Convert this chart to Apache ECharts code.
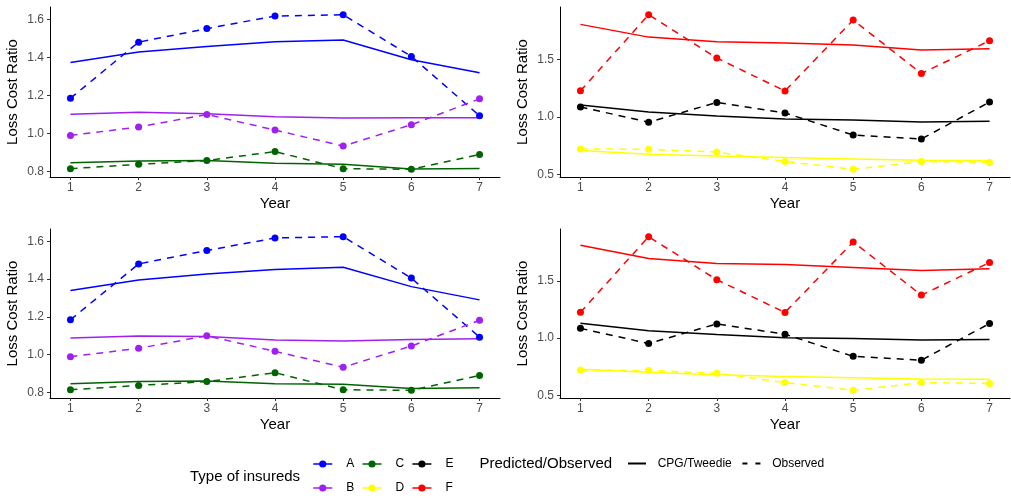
<!DOCTYPE html>
<html>
<head>
<meta charset="utf-8">
<script src="https://cdn.jsdelivr.net/npm/echarts@6/dist/echarts.min.js"></script>
<style>
html,body{margin:0;padding:0;background:#fff;}
#chart{width:1011px;height:498px;}
</style>
</head>
<body>
<div id="chart"></div>
<script>
// ---- data ----
const years = [1, 2, 3, 4, 5, 6, 7];
const groups = ['A', 'B', 'C', 'D', 'E', 'F'];
const colors = {A: '#0000FF', B: '#A020F0', C: '#006400', D: '#FFFF00', E: '#000000', F: '#FF0000'};

// observed loss cost ratios (same in both rows)
const obsA = [1.185, 1.480, 1.551, 1.617, 1.624, 1.405, 1.093];
const obsB = [0.990, 1.034, 1.100, 1.018, 0.934, 1.046, 1.182];
const obsC = [0.815, 0.838, 0.858, 0.905, 0.815, 0.812, 0.890];
const obsD = [0.720, 0.717, 0.693, 0.611, 0.543, 0.611, 0.603];
const obsE = [1.086, 0.953, 1.125, 1.034, 0.841, 0.807, 1.128];
const obsF = [1.226, 1.889, 1.512, 1.225, 1.843, 1.377, 1.663];

// predicted (CPG/Tweedie), top row
const predA1 = [1.373, 1.428, 1.457, 1.482, 1.491, 1.387, 1.319];
const predB1 = [1.101, 1.111, 1.104, 1.088, 1.081, 1.083, 1.083];
const predC1 = [0.846, 0.856, 0.858, 0.844, 0.839, 0.814, 0.816];
const predD1 = [0.706, 0.674, 0.659, 0.645, 0.633, 0.622, 0.619];
const predE1 = [1.103, 1.042, 1.007, 0.981, 0.973, 0.955, 0.961];
const predF1 = [1.805, 1.694, 1.654, 1.642, 1.625, 1.581, 1.593];

// predicted (CPG/Tweedie), bottom row
const predA2 = [1.339, 1.395, 1.427, 1.451, 1.462, 1.360, 1.290];
const predB2 = [1.089, 1.099, 1.096, 1.078, 1.073, 1.080, 1.084];
const predC2 = [0.847, 0.858, 0.861, 0.847, 0.844, 0.821, 0.825];
const predD2 = [0.727, 0.701, 0.680, 0.663, 0.654, 0.642, 0.640];
const predE2 = [1.131, 1.064, 1.032, 1.003, 0.997, 0.983, 0.988];
const predF2 = [1.814, 1.698, 1.654, 1.645, 1.619, 1.593, 1.608];

const leftTicks = [0.8, 1.0, 1.2, 1.4, 1.6];
const rightTicks = [0.5, 1.0, 1.5];

// ---- build ----
const obs = {A: obsA, B: obsB, C: obsC, D: obsD, E: obsE, F: obsF};
const pred1 = {A: predA1, B: predB1, C: predC1, D: predD1, E: predE1, F: predF1};
const pred2 = {A: predA2, B: predB2, C: predC2, D: predD2, E: predE2, F: predF2};

const panels = [
  {grid: {left: 50, top: 7, width: 450, height: 170}, groups: ['A', 'B', 'C'], pred: pred1, ticks: leftTicks},
  {grid: {left: 560, top: 7, width: 450, height: 170}, groups: ['D', 'E', 'F'], pred: pred1, ticks: rightTicks},
  {grid: {left: 50, top: 229, width: 450, height: 169}, groups: ['A', 'B', 'C'], pred: pred2, ticks: leftTicks},
  {grid: {left: 560, top: 229, width: 450, height: 169}, groups: ['D', 'E', 'F'], pred: pred2, ticks: rightTicks}
];

const FONT = 'Liberation Sans, Arial, Helvetica, sans-serif';

const grids = [], xAxes = [], yAxes = [], series = [];
const dash = [7, 6];

panels.forEach((p, i) => {
  grids.push(Object.assign({containLabel: false}, p.grid));
  xAxes.push({
    type: 'value', gridIndex: i, min: 0.7, max: 7.3,
    name: 'Year', nameLocation: 'middle', nameGap: 19,
    nameTextStyle: {fontFamily: FONT, fontSize: 15, color: '#000'},
    axisLine: {show: true, onZero: false, lineStyle: {color: '#000', width: 1}},
    axisTick: {show: true, length: 3, customValues: years, lineStyle: {color: '#333'}},
    axisLabel: {customValues: years, margin: 5, fontFamily: FONT, fontSize: 12, color: '#4D4D4D'},
    splitLine: {show: false}
  });
  const allVals = [];
  p.groups.forEach(g => { allVals.push(...obs[g], ...p.pred[g]); });
  const lo = Math.min(...allVals), hi = Math.max(...allVals), sp = hi - lo;
  yAxes.push({
    type: 'value', gridIndex: i, min: lo - 0.05 * sp, max: hi + 0.05 * sp,
    name: 'Loss Cost Ratio', nameLocation: 'middle', nameGap: 30,
    nameTextStyle: {fontFamily: FONT, fontSize: 15, color: '#000'},
    axisLine: {show: true, onZero: false, lineStyle: {color: '#000', width: 1}},
    axisTick: {show: true, length: 3, customValues: p.ticks, lineStyle: {color: '#333'}},
    axisLabel: {customValues: p.ticks, margin: 6, fontFamily: FONT, fontSize: 12, color: '#4D4D4D',
      formatter: v => v.toFixed(1)},
    splitLine: {show: false}
  });
  p.groups.forEach(g => {
    series.push({
      name: g, type: 'line', xAxisIndex: i, yAxisIndex: i,
      data: years.map((y, k) => [y, obs[g][k]]),
      symbol: 'circle', symbolSize: 7, showSymbol: true,
      itemStyle: {color: colors[g]},
      lineStyle: {color: colors[g], width: 1.5, type: dash},
      z: 3, silent: true
    });
  });
  p.groups.forEach(g => {
    series.push({
      name: g + ' pred', type: 'line', xAxisIndex: i, yAxisIndex: i,
      data: years.map((y, k) => [y, p.pred[g][k]]),
      symbol: 'none', showSymbol: false,
      itemStyle: {color: colors[g]},
      lineStyle: {color: colors[g], width: 1.5, type: 'solid'},
      z: 2, silent: true
    });
  });
});

// legend-key series for line types
series.push({name: 'CPG/Tweedie', type: 'line', xAxisIndex: 0, yAxisIndex: 0, data: [],
  symbol: 'none', itemStyle: {color: '#000'}, lineStyle: {color: '#000', width: 1.5, type: 'solid'}});
series.push({name: 'Observed', type: 'line', xAxisIndex: 0, yAxisIndex: 0, data: [],
  symbol: 'none', itemStyle: {color: '#000'}, lineStyle: {color: '#000', width: 1.5, type: [5, 8]}});

const option = {
  animation: false,
  backgroundColor: '#fff',
  grid: grids,
  xAxis: xAxes,
  yAxis: yAxes,
  series: series,
  title: [
    {text: 'Type of insureds', left: 190, top: 469.5, textStyle: {fontFamily: FONT, fontSize: 15, fontWeight: 'normal', color: '#000'}, padding: 0},
    {text: 'Predicted/Observed', left: 479.5, top: 456.5, textStyle: {fontFamily: FONT, fontSize: 15, fontWeight: 'normal', color: '#000'}, padding: 0}
  ],
  legend: [
    {
      orient: 'vertical', left: 312.5, top: 455.75, height: 42, padding: 0,
      itemWidth: 19, itemHeight: 9, itemGap: 7.5,
      selectedMode: false,
      textStyle: {fontFamily: FONT, fontSize: 12, color: '#000', lineHeight: 16.5, padding: [0, 0, 0, 9]},
      data: groups.map(g => ({name: g, lineStyle: {type: 'solid', width: 1.5}}))
    },
    {
      orient: 'horizontal', left: 627, top: 455.5, padding: 0,
      itemWidth: 18, itemHeight: 9, itemGap: 9.7,
      selectedMode: false,
      textStyle: {fontFamily: FONT, fontSize: 12, color: '#000', lineHeight: 16, padding: [0, 0, 0, 6.7]},
      data: [
        {name: 'CPG/Tweedie', itemStyle: {opacity: 0}},
        {name: 'Observed', itemStyle: {opacity: 0}}
      ]
    }
  ]
};

const chart = echarts.init(document.getElementById('chart'), null, {renderer: 'canvas'});
chart.setOption(option);
</script>
</body>
</html>
